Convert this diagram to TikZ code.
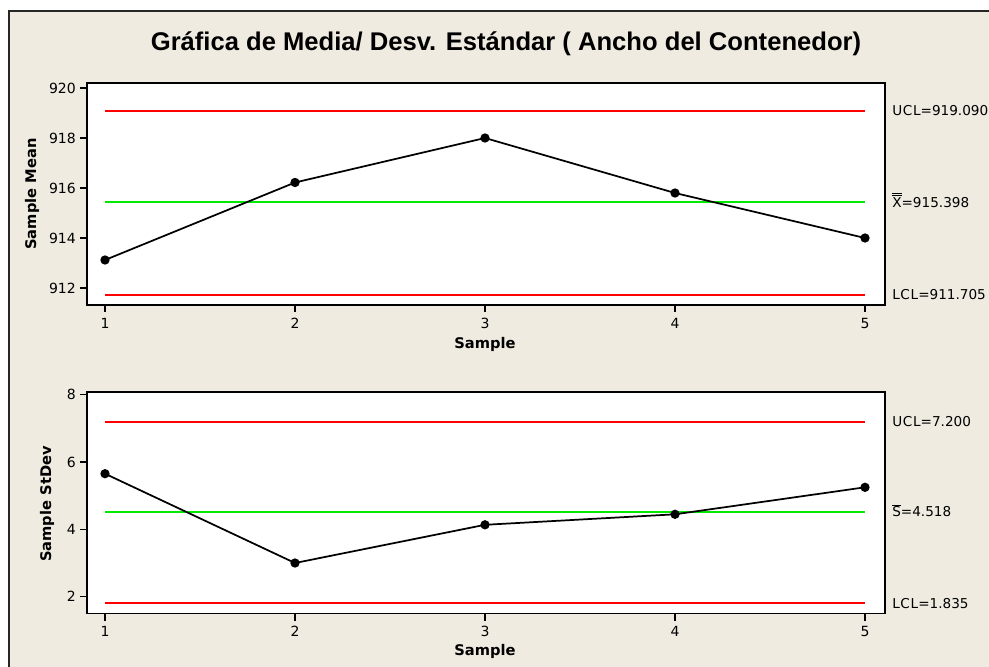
\documentclass[tikz,border=0pt]{standalone}
\usepackage{fontspec}
\setmainfont{DejaVu Sans}
\newfontfamily\titlefont{Liberation Sans}
\definecolor{bgbeige}{RGB}{239,235,225}
\definecolor{ctrlred}{RGB}{255,0,0}
\definecolor{ctrlgreen}{RGB}{0,235,0}
\tikzset{
  plotbox/.style={draw=black, line width=1.4pt, fill=white},
  ctrlline/.style={line width=1.5pt},
  dataline/.style={draw=black, line width=1.3pt},
  datadot/.style={circle, fill=black, inner sep=0pt, minimum size=7pt},
  ticklbl/.style={font=\fontsize{10.5}{12}\selectfont, inner sep=0pt},
  limlbl/.style={font=\fontsize{10.2}{12}\selectfont, inner sep=0pt, anchor=base west},
  axlbl/.style={font=\fontsize{11}{13}\selectfont\bfseries, inner sep=0pt},
  tickmark/.style={line width=1pt}
}
\begin{document}
\begin{tikzpicture}[x=0.75pt,y=-0.75pt]
\useasboundingbox (0,0) rectangle (989,667);
\clip (0,0) rectangle (989,667);
\fill[white] (0,0) rectangle (989,667);
\draw[fill=bgbeige, draw=black!85, line width=1.4pt] (9,11) rectangle (1010,700);

% title
\node[inner sep=0pt, anchor=base] (title) at (506,51)
  {\titlefont\bfseries\fontsize{19.2}{22}\selectfont Gráfica de Media/ Desv. Estándar ( Ancho del Contenedor)};

% ---------------- top chart ----------------
\draw[plotbox] (87,83) rectangle (885,305);
\foreach \v/\y in {920/88,918/138,916/188,914/238,912/288}{
  \draw[tickmark] (80,\y) -- (87,\y);
  \node[ticklbl, anchor=east] (ty\v) at (76,\y) {\v};
}
\foreach \i/\x in {1/105,2/295,3/485,4/675,5/865}{
  \draw[tickmark] (\x,305) -- (\x,312);
  \node[ticklbl] (tx\i) at (\x,323) {\i};
}
\node[axlbl] (txlab) at (485,344) {Sample};
\node[axlbl, rotate=90] (tylab) at (32,194) {Sample Mean};

\draw[ctrlline, ctrlred] (105,111) -- (865,111);
\draw[ctrlline, ctrlgreen] (105,202) -- (865,202);
\draw[ctrlline, ctrlred] (105,295) -- (865,295);

\node[datadot] (m1) at (105,260) {};
\node[datadot] (m2) at (295,182.5) {};
\node[datadot] (m3) at (485,138) {};
\node[datadot] (m4) at (675,193) {};
\node[datadot] (m5) at (865,238) {};
\draw[dataline] (m1.center) -- (m2.center) -- (m3.center) -- (m4.center) -- (m5.center);

\node[limlbl] (tucl) at (892,115.2) {U\kern0.4pt C\kern0.6pt L=919.090};
\node[limlbl] (tcl) at (892,207.3) {$\overline{\overline{\hbox{X}}}$=915.398};
\node[limlbl] (tlcl) at (892,299.6) {L\kern0.4pt C\kern0.6pt L=911.705};

% ---------------- bottom chart ----------------
\draw[plotbox] (87,392) rectangle (885,613.5);
\foreach \v/\y in {8/394.7,6/462.1,4/529.4,2/596.7}{
  \draw[tickmark] (80,\y) -- (87,\y);
  \node[ticklbl, anchor=east] (by\v) at (76,\y) {\v};
}
\foreach \i/\x in {1/105,2/295,3/485,4/675,5/865}{
  \draw[tickmark] (\x,613.5) -- (\x,620.5);
  \node[ticklbl] (bx\i) at (\x,631) {\i};
}
\node[axlbl] (bxlab) at (485,651) {Sample};
\node[axlbl, rotate=90] (bylab) at (47,504) {Sample StDev};

\draw[ctrlline, ctrlred] (105,422) -- (865,422);
\draw[ctrlline, ctrlgreen] (105,512) -- (865,512);
\draw[ctrlline, ctrlred] (105,603) -- (865,603);

\node[datadot] (s1) at (105,473.7) {};
\node[datadot] (s2) at (295,563) {};
\node[datadot] (s3) at (485,524.8) {};
\node[datadot] (s4) at (675,514.3) {};
\node[datadot] (s5) at (865,487.3) {};
\draw[dataline] (s1.center) -- (s2.center) -- (s3.center) -- (s4.center) -- (s5.center);

\node[limlbl] (bucl) at (892,426.8) {U\kern0.4pt C\kern0.6pt L=7.200};
\node[limlbl] (bcl) at (892,516.8) {$\overline{\hbox{S}}$=4.518};
\node[limlbl] (blcl) at (892,608) {L\kern0.4pt C\kern0.6pt L=1.835};
\end{tikzpicture}
\end{document}
